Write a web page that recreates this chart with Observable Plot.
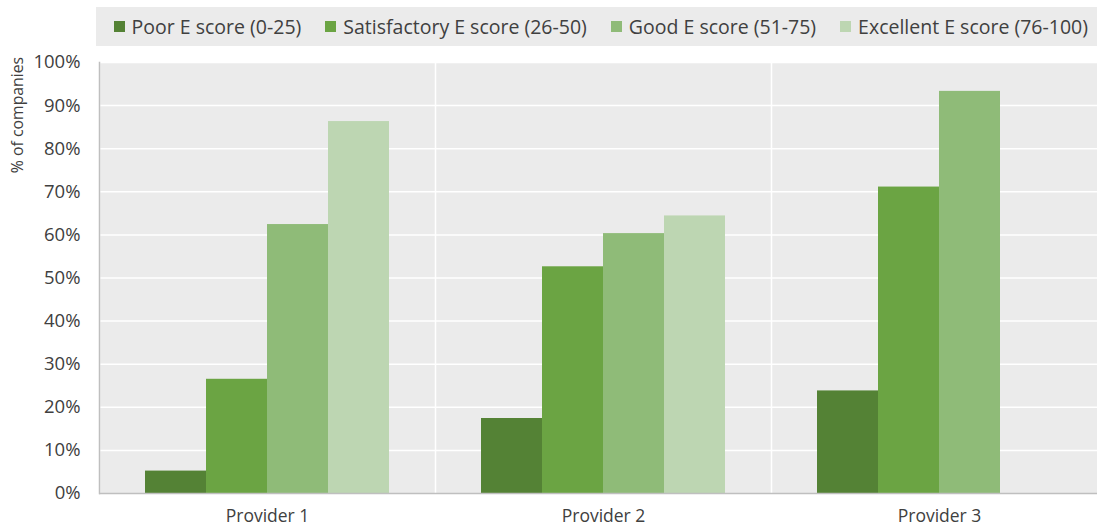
<!DOCTYPE html>
<html>
<head>
<meta charset="utf-8">
<script src="https://cdn.jsdelivr.net/npm/d3@7"></script>
<script src="https://cdn.jsdelivr.net/npm/@observablehq/plot@0.6"></script>
<style>
  html, body { margin: 0; padding: 0; background: #fff; overflow: hidden; }
  #wrap { position: relative; width: 1097px; height: 529px; overflow: hidden; font-family: "Open Sans", sans-serif; }
  #chart { position: absolute; left: 0; top: 0; width: 1107px; }
  #chart svg { max-width: none !important; }
  #legend { position: absolute; left: 96px; top: 7px; width: 1001px; height: 39px; background: #ebebeb;
            display: flex; align-items: center; justify-content: flex-end; box-sizing: border-box; padding-right: 9px;
            font-size: 19.5px; color: #404040; gap: 24px; }
  .item { display: flex; align-items: center; white-space: nowrap; }
  .sw { width: 11px; height: 11px; margin-right: 7px; }
  #ylabel { position: absolute; left: 17px; top: 115px; transform: translate(-50%, -50%) rotate(-90deg);
            font-size: 15.8px; color: #404040; white-space: nowrap; }
</style>
</head>
<body>
<div id="wrap">
  <div id="chart"></div>
  <div id="legend"></div>
  <div id="ylabel">% of companies</div>
</div>
<script>
const providers = ["Provider 1", "Provider 2", "Provider 3"];
const categories = ["Poor E score (0-25)", "Satisfactory E score (26-50)", "Good E score (51-75)", "Excellent E score (76-100)"];
const colors = ["#548235", "#6ba443", "#8fbb78", "#bdd6b2"];
const poor = [5.2, 17.4, 23.8];
const satisfactory = [26.5, 52.6, 71.1];
const good = [62.4, 60.3, 93.3];
const excellent = [86.3, 64.4, null];
const yTicks = [0, 10, 20, 30, 40, 50, 60, 70, 80, 90, 100];

const series = [poor, satisfactory, good, excellent];
const data = [];
providers.forEach((p, i) => {
  categories.forEach((c, j) => {
    const v = series[j][i];
    if (v != null) data.push({provider: p, category: c, value: v});
  });
});

const chart = Plot.plot({
  width: 1107,
  height: 529,
  marginLeft: 99,
  marginRight: 0,
  marginTop: 62,
  marginBottom: 36,
  style: { fontFamily: "Open Sans, sans-serif", color: "#404040", background: "transparent" },
  fx: { domain: providers, padding: 0, label: null },
  x: { domain: categories, paddingInner: 0, paddingOuter: 0.75, axis: null },
  y: { domain: [0, 100], label: null },
  color: { domain: categories, range: colors },
  marks: [
    Plot.frame({ fill: "#ebebeb", stroke: null }),
    Plot.ruleY(yTicks.filter(d => d > 0), { stroke: "white", strokeWidth: 1.5 }),
    Plot.frame({ anchor: "left", stroke: "white", strokeWidth: 1.5 }),
    Plot.barY(data, { fx: "provider", x: "category", y: "value", fill: "category" }),
    Plot.ruleY([0], { stroke: "#bfbfbf", strokeWidth: 1.5 }),
    Plot.frame({ anchor: "left", stroke: "#bfbfbf", strokeWidth: 1.5, facetAnchor: "left" }),
    Plot.axisY({ ticks: yTicks, tickFormat: d => d + "%", tickSize: 0, tickPadding: 19, fontSize: 18.5, label: null }),
    Plot.axisFx({ anchor: "bottom", tickSize: 0, tickPadding: 16, fontSize: 17.5, label: null })
  ]
});
document.getElementById("chart").appendChild(chart);

const legend = document.getElementById("legend");
categories.forEach((c, j) => {
  const it = document.createElement("div");
  it.className = "item";
  const sw = document.createElement("div");
  sw.className = "sw";
  sw.style.background = colors[j];
  const t = document.createElement("span");
  t.textContent = c;
  it.appendChild(sw);
  it.appendChild(t);
  legend.appendChild(it);
});
</script>
</body>
</html>
